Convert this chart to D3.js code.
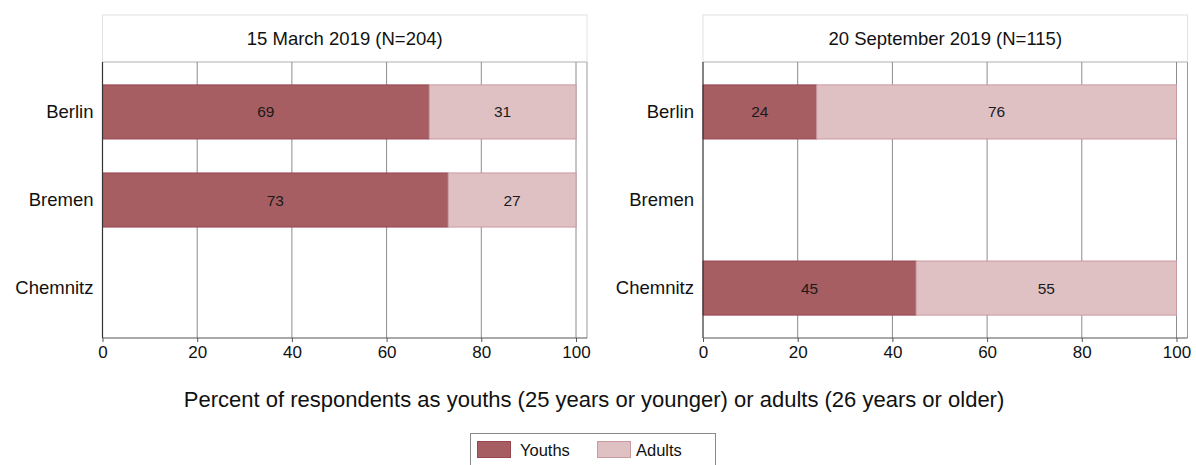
<!DOCTYPE html>
<html>
<head>
<meta charset="utf-8">
<script src="https://cdn.jsdelivr.net/npm/d3@7"></script>
<style>
  html, body { margin: 0; padding: 0; background: #fff; }
  svg { display: block; font-family: "Liberation Sans", Arial, Helvetica, sans-serif; }
</style>
</head>
<body>
<svg id="chart" width="1196" height="465"></svg>
<script>
// Respondent age groups by city, two survey dates
const cities = ["Berlin", "Bremen", "Chemnitz"];
const panelTitles = ["15 March 2019 (N=204)", "20 September 2019 (N=115)"];
const youthsMarch = [69, 73, null];
const adultsMarch = [31, 27, null];
const youthsSeptember = [24, null, 45];
const adultsSeptember = [76, null, 55];
const xTicks = [0, 20, 40, 60, 80, 100];
const seriesNames = ["Youths", "Adults"];
const axisTitle = "Percent of respondents as youths (25 years or younger) or adults (26 years or older)";

const colors = { Youths: "#a65e63", Adults: "#dfc1c4" };
const strokes = { Youths: "#98464f", Adults: "#c99aa0" };

const panels = [
  { title: panelTitles[0], youths: youthsMarch, adults: adultsMarch, x0: 102.5 },
  { title: panelTitles[1], youths: youthsSeptember, adults: adultsSeptember, x0: 703 }
];

const svg = d3.select("#chart");
const plotTop = 62, plotBottom = 338, titleTop = 15;
const plotWidth = 473.5;    // 0..100
const extraRight = 11;      // frame beyond 100

const y = d3.scaleBand()
  .domain(cities)
  .range([plotTop, plotBottom])
  .paddingInner(0.386)
  .paddingOuter(0.26);

panels.forEach(p => {
  const x = d3.scaleLinear().domain([0, 100]).range([p.x0, p.x0 + plotWidth]);
  const right = p.x0 + plotWidth + extraRight;
  const g = svg.append("g");

  // title strip
  g.append("rect")
    .attr("x", p.x0).attr("y", titleTop)
    .attr("width", right - p.x0).attr("height", plotTop - titleTop)
    .attr("fill", "#fff").attr("stroke", "#e2e2e2").attr("stroke-width", 1);
  g.append("text")
    .attr("x", (p.x0 + right) / 2).attr("y", 45)
    .attr("text-anchor", "middle")
    .attr("font-size", 18.5).attr("fill", "#111")
    .text(p.title);

  // plot frame (right side)
  g.append("line")
    .attr("x1", right).attr("x2", right)
    .attr("y1", plotTop).attr("y2", plotBottom)
    .attr("stroke", "#9a9a9a").attr("stroke-width", 1);
  g.append("line")
    .attr("x1", p.x0).attr("x2", right)
    .attr("y1", plotTop).attr("y2", plotTop)
    .attr("stroke", "#bdbdbd").attr("stroke-width", 1);

  // vertical gridlines
  g.append("g").selectAll("line")
    .data(xTicks.filter(t => t > 0))
    .join("line")
    .attr("x1", d => x(d)).attr("x2", d => x(d))
    .attr("y1", plotTop).attr("y2", plotBottom)
    .attr("stroke", "#8c8c8c").attr("stroke-width", 1);

  // stacked bars
  const rows = cities.map((c, i) => ({ city: c, Youths: p.youths[i], Adults: p.adults[i] }))
    .filter(r => r.Youths != null);
  const stacked = d3.stack().keys(seriesNames)(rows);

  stacked.forEach(layer => {
    const key = layer.key;
    const lg = g.append("g");
    lg.selectAll("rect")
      .data(layer)
      .join("rect")
      .attr("x", d => x(d[0]))
      .attr("y", d => y(d.data.city))
      .attr("width", d => x(d[1]) - x(d[0]))
      .attr("height", y.bandwidth())
      .attr("fill", colors[key])
      .attr("stroke", strokes[key])
      .attr("stroke-width", 1);
    lg.selectAll("text")
      .data(layer)
      .join("text")
      .attr("x", d => x((d[0] + d[1]) / 2))
      .attr("y", d => y(d.data.city) + y.bandwidth() / 2 + 5.5)
      .attr("text-anchor", "middle")
      .attr("font-size", 15.5)
      .attr("fill", "#1a1a1a")
      .text(d => d.data[key]);
  });

  // category axis
  const yAxis = g.append("g")
    .attr("transform", `translate(${p.x0},0)`)
    .call(d3.axisLeft(y).tickSize(0).tickPadding(9));
  yAxis.select(".domain").attr("stroke", "#333").attr("stroke-width", 1.2)
    .attr("d", `M0,${plotTop}V${plotBottom}`);
  yAxis.selectAll("text").attr("font-size", 18.5).attr("fill", "#111")
    .attr("font-family", "Liberation Sans, Arial, sans-serif");

  // value axis
  const xAxis = g.append("g")
    .attr("transform", `translate(0,${plotBottom})`)
    .call(d3.axisBottom(x).tickValues(xTicks).tickSize(4).tickPadding(4).tickFormat(d3.format("d")));
  xAxis.select(".domain").attr("stroke", "#555").attr("stroke-width", 1)
    .attr("d", `M${p.x0},0H${right}`);
  xAxis.selectAll(".tick line").attr("stroke", "#555");
  xAxis.selectAll("text").attr("font-size", 17).attr("fill", "#111")
    .attr("font-family", "Liberation Sans, Arial, sans-serif");
});

// shared axis title
svg.append("text")
  .attr("x", 594).attr("y", 407)
  .attr("text-anchor", "middle")
  .attr("font-size", 22).attr("fill", "#111")
  .text(axisTitle);

// legend
const legend = svg.append("g");
legend.append("rect")
  .attr("x", 470.5).attr("y", 433.5).attr("width", 245).attr("height", 40)
  .attr("fill", "#fff").attr("stroke", "#8a8a8a").attr("stroke-width", 1);
const legendItems = [
  { key: "Youths", sx: 477, tx: 520 },
  { key: "Adults", sx: 597, tx: 636 }
];
legendItems.forEach(it => {
  legend.append("rect")
    .attr("x", it.sx + 0.5).attr("y", 441.5).attr("width", 33).attr("height", 16)
    .attr("fill", colors[it.key]).attr("stroke", strokes[it.key]).attr("stroke-width", 1);
  legend.append("text")
    .attr("x", it.tx).attr("y", 455.5)
    .attr("font-size", 16.5).attr("fill", "#111")
    .text(it.key);
});
</script>
</body>
</html>
